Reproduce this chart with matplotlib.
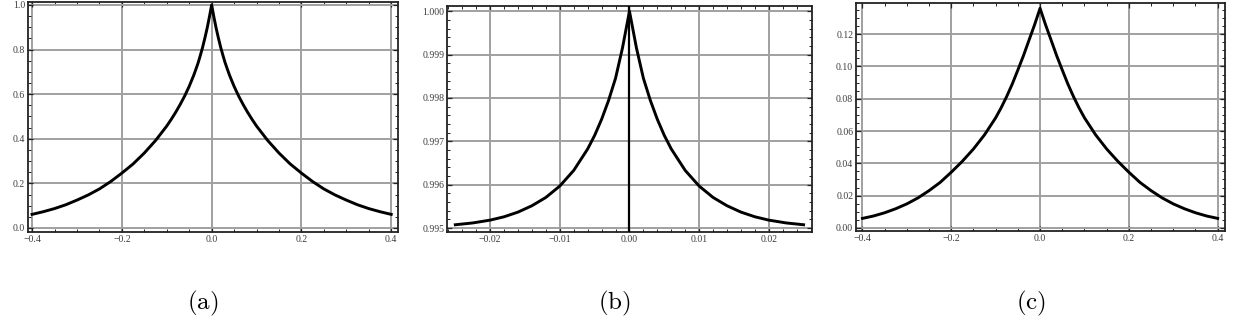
import matplotlib
matplotlib.use("Agg")
import matplotlib.pyplot as plt
from matplotlib.ticker import MultipleLocator, FuncFormatter

plt.rcParams['mathtext.fontset'] = 'cm'

# datos, lado derecho (x >= 0); las curvas son simetricas
xa_der = [0.0, 0.005, 0.01, 0.015, 0.02, 0.025, 0.03, 0.035, 0.04, 0.05, 0.06, 0.07, 0.08, 0.09, 0.1,
          0.125, 0.15, 0.175, 0.2, 0.225, 0.25, 0.275, 0.3, 0.325, 0.35, 0.375, 0.4]
ya_der = [1.0, 0.946, 0.896, 0.852, 0.811, 0.775, 0.741, 0.712, 0.684, 0.635, 0.592, 0.554, 0.519, 0.487, 0.457,
          0.392, 0.336, 0.287, 0.246, 0.208, 0.175, 0.148, 0.125, 0.104, 0.087, 0.073, 0.061]

xb_der = [0.0, 0.001, 0.002, 0.003, 0.004, 0.005, 0.006, 0.008, 0.01, 0.012, 0.014, 0.016, 0.018, 0.02, 0.0225, 0.025]
yb_der = [1.0, 0.999155, 0.998454, 0.997943, 0.997508, 0.997137, 0.996825, 0.996330, 0.995970, 0.995707,
          0.995516, 0.995369, 0.995261, 0.995184, 0.995119, 0.995077]

xc_der = [0.0, 0.0125, 0.025, 0.0375, 0.05, 0.0625, 0.075, 0.0875, 0.1, 0.125, 0.15, 0.175, 0.2,
          0.225, 0.25, 0.275, 0.3, 0.325, 0.35, 0.375, 0.4]
yc_der = [0.136, 0.1257, 0.1162, 0.1066, 0.0978, 0.0892, 0.0815, 0.0745, 0.0682, 0.0577, 0.0489, 0.0413, 0.0345,
          0.0282, 0.0231, 0.0186, 0.0149, 0.0119, 0.0094, 0.0074, 0.0059]

etiquetas = ['(a)', '(b)', '(c)']


def espejo(xs, ys):
    # lado izquierdo = reflejo del derecho
    x = [-v for v in xs[:0:-1]] + xs
    y = ys[:0:-1] + ys
    return x, y


def formato(dec):
    return FuncFormatter(lambda v, p: (f"{v:.{dec}f}").replace('-', '\u2212'))


def preparar(ax, xlim, ylim, xmaj, xmin, ymaj, ymin, xdec, ydec):
    ax.set_xlim(*xlim)
    ax.set_ylim(*ylim)
    ax.xaxis.set_major_locator(MultipleLocator(xmaj))
    ax.xaxis.set_minor_locator(MultipleLocator(xmin))
    ax.yaxis.set_major_locator(MultipleLocator(ymaj))
    ax.yaxis.set_minor_locator(MultipleLocator(ymin))
    ax.xaxis.set_major_formatter(formato(xdec))
    ax.yaxis.set_major_formatter(formato(ydec))
    ax.grid(True, which='major', color='#a0a0a0', linewidth=1.4, zorder=0)
    ax.tick_params(which='both', direction='in', top=True, right=True, colors='#222222',
                   labelcolor='#3c3c3c', labelsize=7, pad=2)
    ax.tick_params(which='major', length=3.5, width=0.9)
    ax.tick_params(which='minor', length=2, width=0.7)
    for lbl in ax.get_xticklabels() + ax.get_yticklabels():
        lbl.set_family('Liberation Serif')
    for s in ax.spines.values():
        s.set_linewidth(1.3)
        s.set_color('#222222')


fig = plt.figure(figsize=(12.34, 3.36), dpi=100)

ax1 = fig.add_axes([0.0227, 0.3095, 0.2998, 0.6845])
ax1.plot(*espejo(xa_der, ya_der), color='black', linewidth=2.1, zorder=3)
preparar(ax1, (-0.409, 0.415), (-0.018, 1.013), 0.2, 0.05, 0.2, 0.05, 1, 1)

ax2 = fig.add_axes([0.3622, 0.3095, 0.2958, 0.6726])
ax2.plot(*espejo(xb_der, yb_der), color='black', linewidth=2.1, zorder=3)
ax2.axvline(0, color='black', linewidth=1.6, zorder=3)
preparar(ax2, (-0.0262, 0.0262), (0.99491, 1.00012), 0.01, 0.002, 0.001, 0.0002, 2, 3)

ax3 = fig.add_axes([0.6937, 0.3125, 0.299, 0.6786])
ax3.plot(*espejo(xc_der, yc_der), color='black', linewidth=2.1, zorder=3)
preparar(ax3, (-0.4145, 0.4165), (-0.0019, 0.1393), 0.2, 0.05, 0.02, 0.005, 1, 2)

for xpos, txt in zip([203 / 1234, 614 / 1234, 1031 / 1234], etiquetas):
    fig.text(xpos, 1 - 303 / 336, r'$\mathrm{' + txt + '}$', ha='center', va='center', fontsize=18)

fig.savefig('out.png', dpi=100)
